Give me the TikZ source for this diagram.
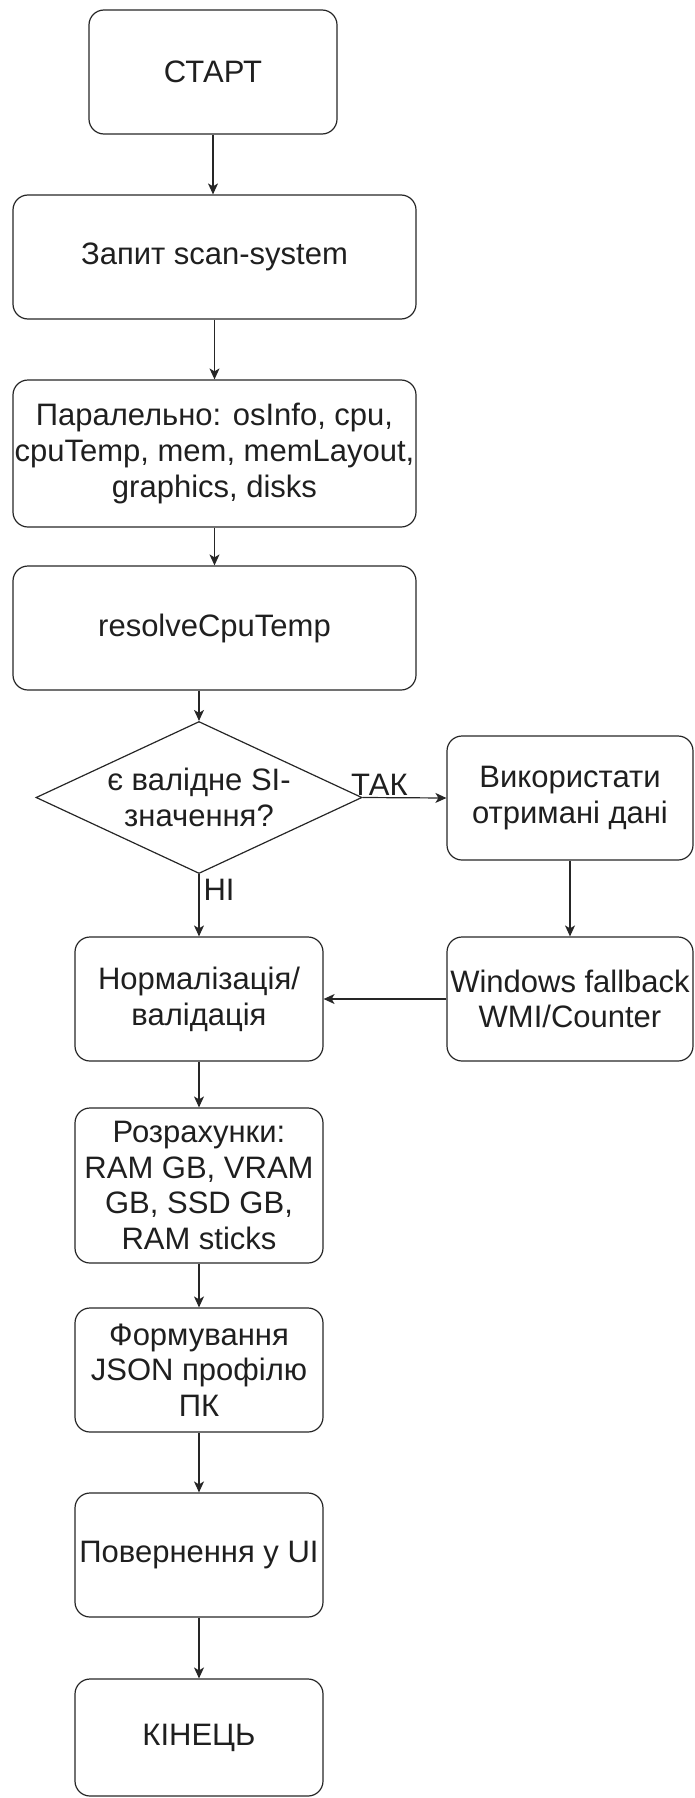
\documentclass[tikz,border=0pt]{standalone}
\usepackage{fontspec}
\setmainfont{Liberation Sans}
\usetikzlibrary{shapes.geometric,arrows.meta}
\begin{document}
\begin{tikzpicture}[x=1pt,y=-1pt,
  every node/.style={font=\fontsize{31}{35.7}\selectfont, text=black!88},
  procbox/.style={draw=black!85, line width=1.2pt, rounded corners=15pt, align=center, inner sep=0pt},
  decbox/.style={draw=black!85, line width=1.2pt, diamond, inner sep=0pt, minimum width=326pt, minimum height=152pt},
  conn/.style={draw=black!85, line width=1.2pt, -{Stealth[length=11pt,width=10pt,inset=3pt]}},
  edgelabel/.style={inner sep=2pt}
]
\useasboundingbox (0,0) rectangle (694,1798);

\node[procbox, minimum width=248pt, minimum height=124pt] (start) at (213,72) {СТАРТ};
\node[procbox, minimum width=403pt, minimum height=124pt] (zap) at (214.5,257) {Запит scan-system};
\node[procbox, minimum width=403pt, minimum height=147pt] (par) at (214.5,453.5) {Паралельно: osInfo, cpu,\\cpuTemp, mem, memLayout,\\graphics, disks};
\node[procbox, minimum width=403pt, minimum height=124pt] (res) at (214.5,628) {resolveCpuTemp};
\node[decbox, label={[align=center]center:{є валідне SI-\\значення?}}] (dec) at (199,797.5) {};
\node[procbox, minimum width=246pt, minimum height=124pt] (use) at (570,798) {Використати\\отримані дані};
\node[procbox, minimum width=246pt, minimum height=124pt] (win) at (570,999) {Windows fallback\\WMI/Counter};
\node[procbox, minimum width=248pt, minimum height=124pt] (norm) at (199,999) {Нормалізація/\\валідація};
\node[procbox, minimum width=248pt, minimum height=155pt] (calc) at (199,1185.5) {Розрахунки:\\RAM GB, VRAM\\GB, SSD GB,\\RAM sticks};
\node[procbox, minimum width=248pt, minimum height=124pt] (form) at (199,1370) {Формування\\JSON профілю\\ПК};
\node[procbox, minimum width=248pt, minimum height=124pt] (ret) at (199,1555) {Повернення у UI};
\node[procbox, minimum width=248pt, minimum height=117pt] (end) at (199,1737.5) {КІНЕЦЬ};

\draw[conn] (start.south) -- (start.south |- zap.north);
\draw[conn] (zap.south) -- (par.north);
\draw[conn] (par.south) -- (res.north);
\draw[conn] (dec.north |- res.south) -- (dec.north);
\draw[conn] (dec.east) -- node[edgelabel, pos=0.2, anchor=south] {ТАК} (use.west);
\draw[conn] (dec.south) -- node[edgelabel, pos=0.25, anchor=west, xshift=2pt] {НІ} (norm.north);
\draw[conn] (use.south) -- (win.north);
\draw[conn] (win.west) -- (norm.east);
\draw[conn] (norm.south) -- (calc.north);
\draw[conn] (calc.south) -- (form.north);
\draw[conn] (form.south) -- (ret.north);
\draw[conn] (ret.south) -- (end.north);
\end{tikzpicture}
\end{document}
